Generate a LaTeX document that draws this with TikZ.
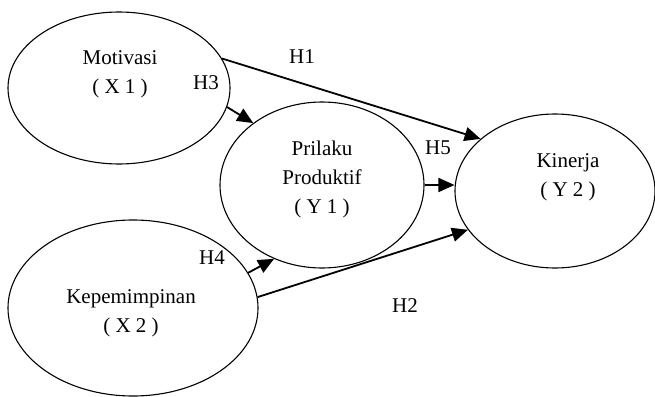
\documentclass[tikz,border=0pt]{standalone}
\usepackage{fontspec}
\setmainfont{Liberation Serif}
\usetikzlibrary{arrows.meta,shapes.geometric}

\begin{document}
\begin{tikzpicture}[x=1pt,y=-1pt,
                    latent/.style={draw,ellipse,line width=1.1pt,inner sep=0pt},
                    lbl/.style={align=center,font=\fontsize{21}{29}\selectfont,inner sep=0pt},
                    path/.style={line width=1.8pt,-{Triangle[length=16pt,width=14pt]}}
                   ]
            \useasboundingbox (0,0) rectangle (655,396);

            % Variables
            \node[latent,minimum width=222pt,minimum height=152pt] (mot) at (119,88)  {};
            \node[latent,minimum width=204pt,minimum height=166pt] (pri) at (322,185) {};
            \node[latent,minimum width=200pt,minimum height=154pt] (kin) at (555,191) {};
            \node[latent,minimum width=250pt,minimum height=176pt] (kep) at (133,308) {};

            \node[lbl] (motT) at (120,74)  {Motivasi\\( X 1 )};
            \node[lbl] (priT) at (322,179) {Prilaku\\Produktif\\( Y 1 )};
            \node[lbl] (kinT) at (568,177) {Kinerja\\( Y 2 )};
            \node[lbl] (kepT) at (131,313) {Kepemimpinan\\( X 2 )};

            % Paths
            \draw[path] (mot.16)  -- (kin.145);
            \draw[path] (mot.-10) -- (pri.138);
            \draw[path] (pri.east) -- (kin.west |- pri.east);
            \draw[path] (kep.17)  -- (pri.237);
            \draw[path] (kep.5)   -- (kin.204);

            \node[lbl] (h1) at (302,57)  {H1};
            \node[lbl] (h3) at (206,83)  {H3};
            \node[lbl] (h5) at (438,148) {H5};
            \node[lbl] (h4) at (212,258) {H4};
            \node[lbl] (h2) at (405,306) {H2};
        \end{tikzpicture}
\end{document}
